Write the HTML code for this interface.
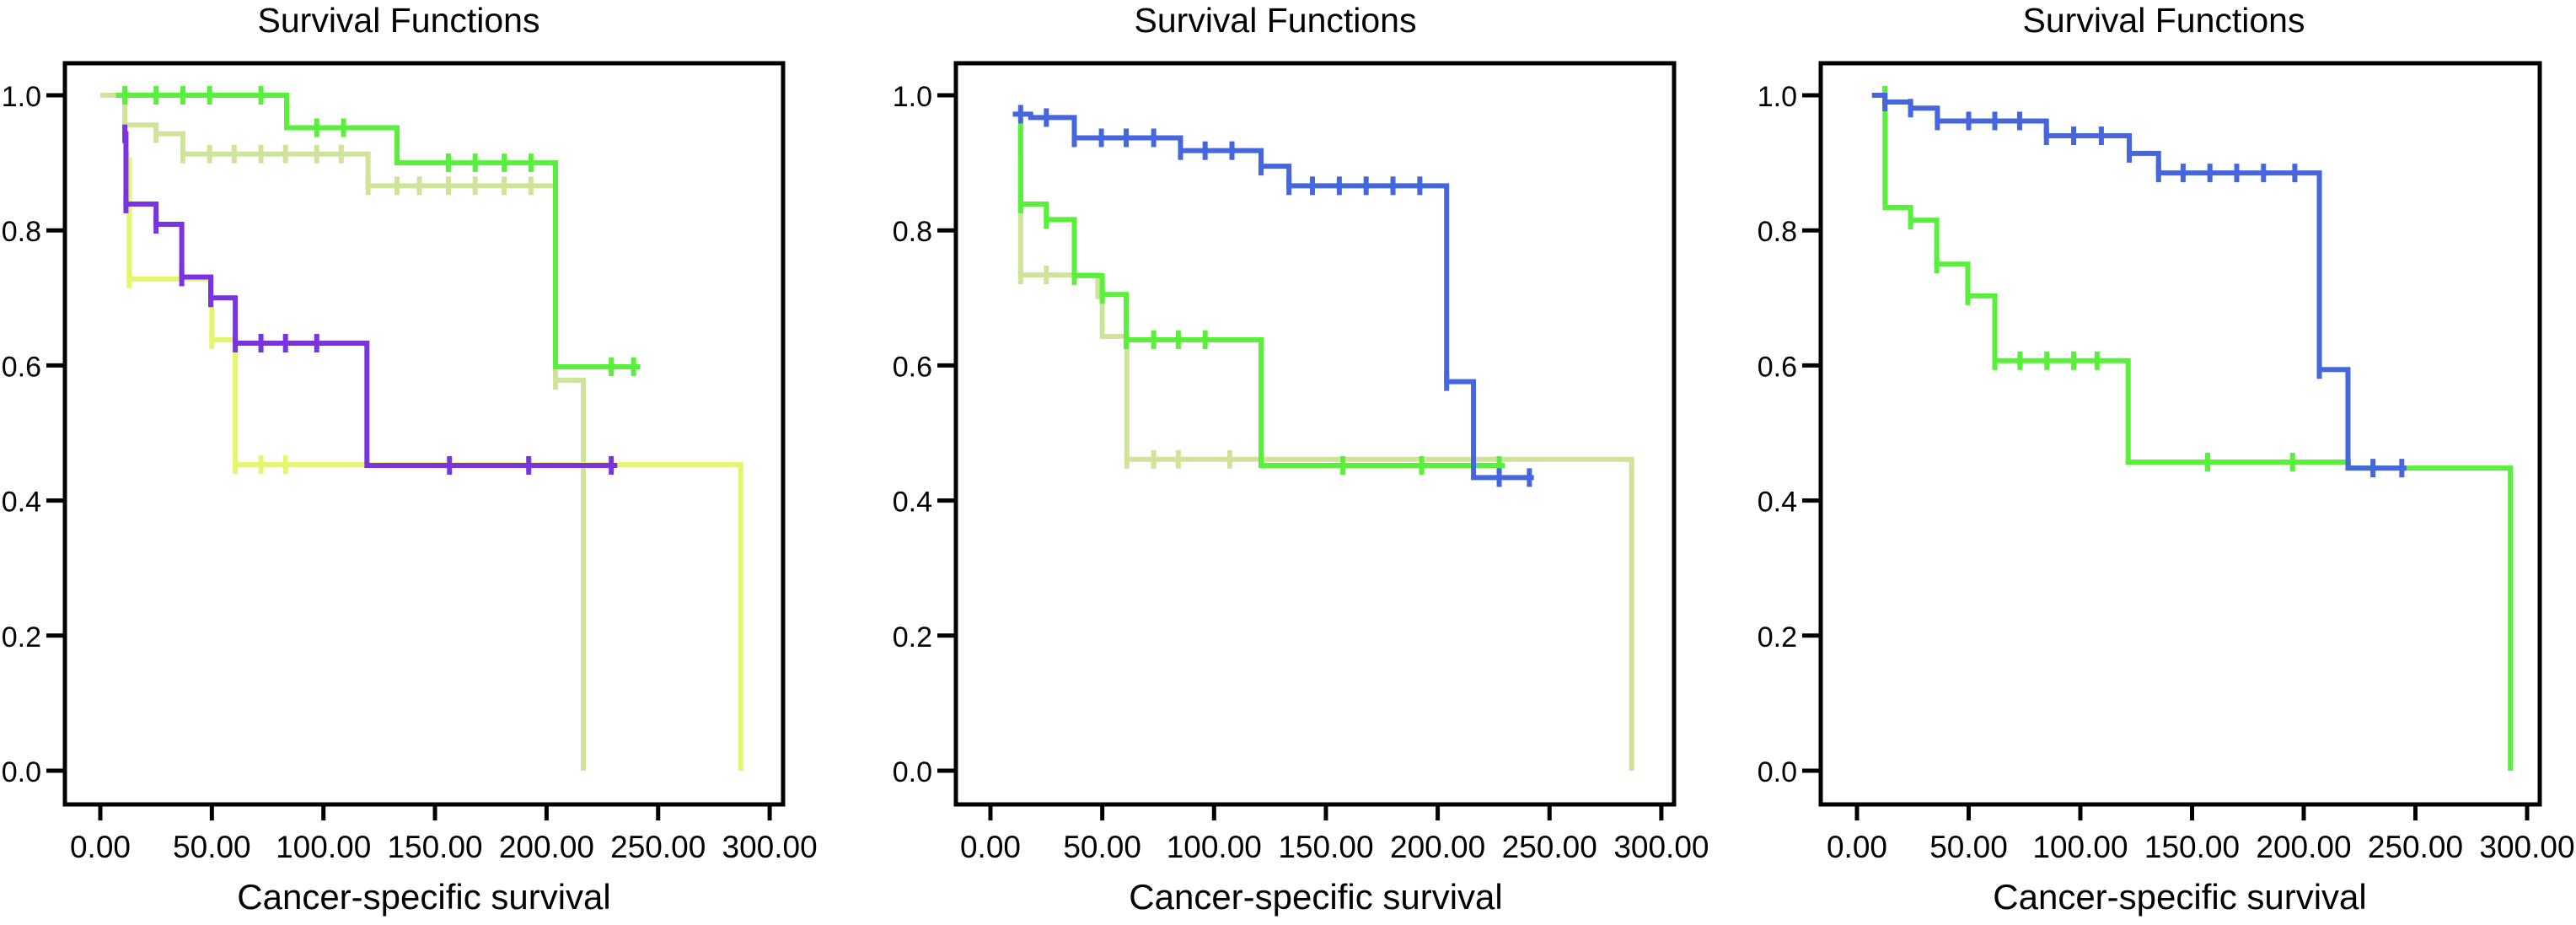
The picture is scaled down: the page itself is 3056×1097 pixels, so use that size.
<!DOCTYPE html>
<html><head><meta charset="utf-8"><style>
html,body{margin:0;padding:0;background:#fff;}
svg{display:block;font-family:"Liberation Sans",Arial,sans-serif;}
</style></head><body>
<svg id="chart" width="3056" height="1097" viewBox="0 0 3056 1097" xmlns="http://www.w3.org/2000/svg"></svg>
<script>
// ---- data ----
const xTickValues = [0, 50, 100, 150, 200, 250, 300];
const xTickLabels = ["0.00", "50.00", "100.00", "150.00", "200.00", "250.00", "300.00"];
const yTickValues = [0, 0.2, 0.4, 0.6, 0.8, 1.0];
const yTickLabels = ["0.0", "0.2", "0.4", "0.6", "0.8", "1.0"];

// Panel 1
const p1SageTimes = [0, 11, 25, 37, 120, 204, 216.5];
const p1SageSurv = [1.0, 0.956, 0.943, 0.913, 0.866, 0.578, 0.0];
const p1SageCensor = [11, 25, 37, 49, 60, 72, 83, 97, 108, 120, 133, 143, 156, 168, 181, 193, 204];
const p1SageEnd = 216.5;
const p1YellowTimes = [12, 13, 50, 60.5, 287];
const p1YellowSurv = [0.904, 0.728, 0.638, 0.453, 0.0];
const p1YellowCensor = [12, 13, 50, 60.5, 72, 83];
const p1YellowEnd = 287;
const p1GreenTimes = [7, 83.5, 133, 204];
const p1GreenSurv = [1.0, 0.952, 0.900, 0.598];
const p1GreenCensor = [11, 25, 37, 49, 72, 97, 109, 156, 168, 181, 193, 229, 239];
const p1GreenEnd = 242;
const p1PurpleTimes = [11, 11.5, 25, 36.5, 49.5, 60.5, 119.5];
const p1PurpleSurv = [0.943, 0.839, 0.809, 0.731, 0.70, 0.633, 0.452];
const p1PurpleCensor = [11, 11.5, 25, 36.5, 49.5, 60.5, 72, 83, 97, 156.5, 192, 229];
const p1PurpleEnd = 231.7;

// Panel 2
const p2SageTimes = [13, 13.5, 48, 50, 61, 286.7];
const p2SageSurv = [0.905, 0.734, 0.702, 0.643, 0.461, 0.0];
const p2SageCensor = [13.5, 25, 61, 73, 84, 107];
const p2SageEnd = 286.7;
const p2GreenTimes = [13, 13.5, 25, 37.5, 50, 60.7, 121];
const p2GreenSurv = [0.96, 0.839, 0.816, 0.733, 0.705, 0.638, 0.452];
const p2GreenCensor = [13.5, 25, 37.5, 50, 60.7, 73, 84, 96, 157.6, 192.8, 227.5];
const p2GreenEnd = 230;
const p2BlueTimes = [10, 18, 37.5, 85, 121, 133.5, 204, 216];
const p2BlueSurv = [0.972, 0.967, 0.937, 0.918, 0.895, 0.866, 0.576, 0.434];
const p2BlueCensor = [13.5, 25, 37.5, 49.6, 60.7, 73, 85, 96, 108, 121, 133.5, 144, 156, 168, 180, 192, 204, 227.5, 241];
const p2BlueEnd = 243;

// Panel 3
const p3GreenTimes = [12.5, 12.6, 24, 35.7, 49.6, 61.7, 121.4, 220, 292.5];
const p3GreenSurv = [1.0, 0.834, 0.815, 0.75, 0.703, 0.607, 0.457, 0.448, 0.0];
const p3GreenCensor = [12.5, 24, 35.7, 49.6, 61.7, 73, 85, 97, 107.5, 157, 195];
const p3GreenEnd = 292.5;
const p3BlueTimes = [6.7, 12.5, 24, 36, 84.8, 121.9, 135, 207, 219.8];
const p3BlueSurv = [1.0, 0.99, 0.981, 0.962, 0.94, 0.914, 0.885, 0.594, 0.448];
const p3BlueCensor = [12.5, 24, 36, 50, 61.7, 72.8, 84.8, 97, 109.4, 121.9, 135, 146, 158, 170, 182, 196, 207, 231, 243.9];
const p3BlueEnd = 246;

// ---- drawing ----
const NS = "http://www.w3.org/2000/svg";
const svg = document.getElementById("chart");
const C = {green:"#58f03a", sage:"#cfe49a", yellow:"#e4f76a", purple:"#7a33e0", blue:"#4566dc"};
const panels = [
  {name:"panel-1", left:77, right:929, x0:119, k:2.647, titleX:473, axisX:503,
   series:[["sage",p1SageTimes,p1SageSurv,p1SageCensor,p1SageEnd],["yellow",p1YellowTimes,p1YellowSurv,p1YellowCensor,p1YellowEnd],["green",p1GreenTimes,p1GreenSurv,p1GreenCensor,p1GreenEnd],["purple",p1PurpleTimes,p1PurpleSurv,p1PurpleCensor,p1PurpleEnd]]},
  {name:"panel-2", left:1134, right:1986, x0:1175, k:2.653, titleX:1513, axisX:1561,
   series:[["sage",p2SageTimes,p2SageSurv,p2SageCensor,p2SageEnd],["green",p2GreenTimes,p2GreenSurv,p2GreenCensor,p2GreenEnd],["blue",p2BlueTimes,p2BlueSurv,p2BlueCensor,p2BlueEnd]]},
  {name:"panel-3", left:2160, right:3013, x0:2203, k:2.65, titleX:2567, axisX:2586,
   series:[["green",p3GreenTimes,p3GreenSurv,p3GreenCensor,p3GreenEnd],["blue",p3BlueTimes,p3BlueSurv,p3BlueCensor,p3BlueEnd]]}
];
const TOP = 75, BOTTOM = 954;
function yScale(v){ return 914 - v * 801; }

function mk(tag, attrs, parent){
  const e = document.createElementNS(NS, tag);
  for (const a in attrs) e.setAttribute(a, attrs[a]);
  parent.appendChild(e);
  return e;
}
function survAt(times, surv, t){
  let s = surv[0];
  for (let i = 0; i < times.length; i++) if (t >= times[i]) s = surv[i];
  return s;
}

panels.forEach(p => {
  const xs = t => p.x0 + t * p.k;
  const g = mk("g", {}, svg);
  
  

  const title = mk("text", {x:p.titleX, y:38, "font-size":41, "text-anchor":"middle", fill:"#000"}, g);
  title.textContent = "Survival Functions";
  
  

  p.series.forEach(s => {
    const [col, times, surv, cens, end] = s;
    let d = "M" + xs(times[0]) + "," + yScale(surv[0]);
    for (let i = 1; i < times.length; i++) {
      d += " H" + xs(times[i]) + " V" + yScale(surv[i]);
    }
    d += " H" + xs(end);
    const sg = mk("g", {}, g);
    
    
    const path = mk("path", {d:d, fill:"none", stroke:C[col], "stroke-width":6}, sg);
    
    
    cens.forEach(c => {
      const cy = yScale(survAt(times, surv, c));
      const m = mk("line", {x1:xs(c), x2:xs(c), y1:cy-11, y2:cy+11, stroke:C[col], "stroke-width":6}, sg);
      
      
    });
  });

  const fr = mk("rect", {x:p.left, y:TOP, width:p.right-p.left, height:BOTTOM-TOP, fill:"none", stroke:"#000", "stroke-width":5}, g);
  
  

  yTickValues.forEach((v, i) => {
    const y = yScale(v);
    const t = mk("line", {x1:p.left-22, x2:p.left, y1:y, y2:y, stroke:"#000", "stroke-width":5}, g);
    
    
    const l = mk("text", {x:p.left-28, y:y+13, "font-size":34, "text-anchor":"end", fill:"#000"}, g);
    l.textContent = yTickLabels[i];
    
    
  });
  xTickValues.forEach((v, i) => {
    const x = xs(v);
    const t = mk("line", {x1:x, x2:x, y1:BOTTOM, y2:973, stroke:"#000", "stroke-width":5}, g);
    
    
    const l = mk("text", {x:x, y:1017, "font-size":37, "text-anchor":"middle", fill:"#000"}, g);
    l.textContent = xTickLabels[i];
    
    
  });
  const at = mk("text", {x:p.axisX, y:1078, "font-size":42, "text-anchor":"middle", fill:"#000"}, g);
  at.textContent = "Cancer-specific survival";
  
  
});
</script>
</body></html>
